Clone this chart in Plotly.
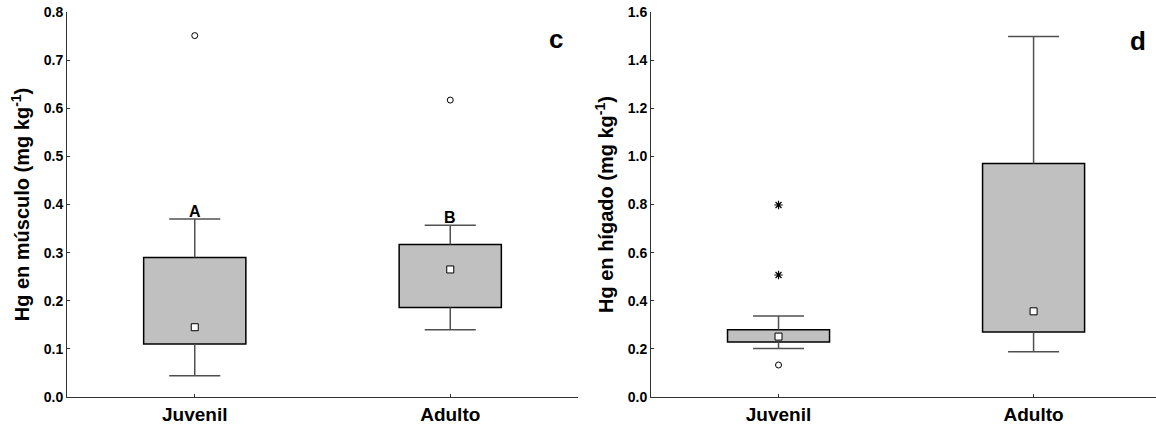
import plotly.graph_objects as go

groups = ["Juvenil", "Adulto"]
group_pos = [0, 1]

# Panel c: Hg en músculo
c_q1 = [0.110, 0.186]
c_median = [0.145, 0.265]
c_q3 = [0.290, 0.317]
c_low = [0.044, 0.140]
c_high = [0.370, 0.357]
c_outlier_g = [0, 1]
c_outlier_y = [0.751, 0.617]
c_letters = ["A", "B"]

# Panel d: Hg en hígado
d_q1 = [0.229, 0.270]
d_median = [0.251, 0.356]
d_q3 = [0.280, 0.970]
d_low = [0.202, 0.188]
d_high = [0.337, 1.498]
d_outlier_g = [0]
d_outlier_y = [0.133]
d_extreme_g = [0, 0]
d_extreme_y = [0.798, 0.507]

BOX_W = 0.4
CAP_HW = 0.1
FONT = "Liberation Sans, Arial, sans-serif"
WHISK = "#505050"

fig = go.Figure()


def add_panel(xa, ya, q1, med, q3, low, high, out_g, out_y, ext_g=None, ext_y=None):
    # whiskers
    wx, wy = [], []
    for p, a, b, lo, hi in zip(group_pos, q1, q3, low, high):
        wx += [p, p, None, p - CAP_HW, p + CAP_HW, None, p, p, None, p - CAP_HW, p + CAP_HW, None]
        wy += [b, hi, None, hi, hi, None, a, lo, None, lo, lo, None]
    fig.add_trace(go.Scatter(x=wx, y=wy, mode="lines", line=dict(color=WHISK, width=1.5),
                             xaxis=xa, yaxis=ya, hoverinfo="skip", showlegend=False))
    # boxes
    fig.add_trace(go.Bar(x=group_pos, y=[b - a for a, b in zip(q1, q3)], base=q1, width=BOX_W,
                         marker=dict(color="#c0c0c0", line=dict(color="black", width=1.5)),
                         xaxis=xa, yaxis=ya, hoverinfo="skip", showlegend=False))
    # medians
    fig.add_trace(go.Scatter(x=group_pos, y=med, mode="markers",
                             marker=dict(symbol="square", size=7, color="white",
                                         line=dict(color="black", width=1)),
                             xaxis=xa, yaxis=ya, hoverinfo="skip", showlegend=False))
    # outliers
    fig.add_trace(go.Scatter(x=[group_pos[g] for g in out_g], y=out_y, mode="markers",
                             marker=dict(symbol="circle-open", size=6, color="black",
                                         line=dict(color="black", width=1)),
                             xaxis=xa, yaxis=ya, hoverinfo="skip", showlegend=False))
    if ext_g:
        fig.add_trace(go.Scatter(x=[group_pos[g] for g in ext_g], y=ext_y, mode="markers",
                                 marker=dict(symbol="asterisk-open", size=7, color="black",
                                             line=dict(color="black", width=1.2)),
                                 xaxis=xa, yaxis=ya, hoverinfo="skip", showlegend=False))


add_panel("x", "y", c_q1, c_median, c_q3, c_low, c_high, c_outlier_g, c_outlier_y)
add_panel("x2", "y2", d_q1, d_median, d_q3, d_low, d_high, d_outlier_g, d_outlier_y,
          d_extreme_g, d_extreme_y)

for p, hi, lab in zip(group_pos, c_high, c_letters):
    fig.add_annotation(x=p, y=hi, xref="x", yref="y", text=lab, showarrow=False,
                       yanchor="bottom", yshift=-3,
                       font=dict(family=FONT, size=16, color="black", weight="bold"))

fig.add_annotation(x=556 / 1156, y=1 - (39 - 12) / 385, xref="paper", yref="paper", text="c",
                   xanchor="center", yanchor="middle", showarrow=False,
                   font=dict(family=FONT, size=26, color="black", weight="bold"))
fig.add_annotation(x=1138 / 1156, y=1 - (41 - 12) / 385, xref="paper", yref="paper", text="d",
                   xanchor="center", yanchor="middle", showarrow=False,
                   font=dict(family=FONT, size=26, color="black", weight="bold"))

tickfont = dict(family=FONT, size=14, color="black", weight="bold")
xfont = dict(family=FONT, size=19, color="black", weight="bold")
titlefont = dict(family=FONT, size=20, color="black", weight="bold")

common_x = dict(tickvals=group_pos, ticktext=groups, showline=True, linecolor="#333",
                linewidth=1, ticks="inside", ticklen=3, tickcolor="#333", showgrid=False,
                zeroline=False, tickfont=xfont, ticklabelstandoff=0)
common_y = dict(showline=True, linecolor="#333", linewidth=1, ticks="inside", ticklen=3,
                tickcolor="#333", showgrid=False, zeroline=False, tickfont=tickfont,
                tickformat=".1f")

fig.update_layout(
    width=1156, height=429,
    margin=dict(l=0, r=0, t=12, b=32),
    paper_bgcolor="white", plot_bgcolor="white",
    showlegend=False, barmode="overlay",
    xaxis=dict(domain=[67 / 1156, 578 / 1156], range=[-0.5, 1.5], anchor="y", **common_x),
    yaxis=dict(domain=[0, 1], range=[0, 0.8], dtick=0.1, anchor="x",
               title=dict(text="Hg en músculo (mg kg<sup>-1</sup>)", font=titlefont, standoff=8),
               **common_y),
    xaxis2=dict(domain=[651 / 1156, 1.0], range=[-0.5, 1.48], anchor="y2", **common_x),
    yaxis2=dict(domain=[0, 1], range=[0, 1.6], dtick=0.2, anchor="x2",
                title=dict(text="Hg en hígado (mg kg<sup>-1</sup>)", font=titlefont, standoff=8),
                **common_y),
)

fig.write_html("out.html")
